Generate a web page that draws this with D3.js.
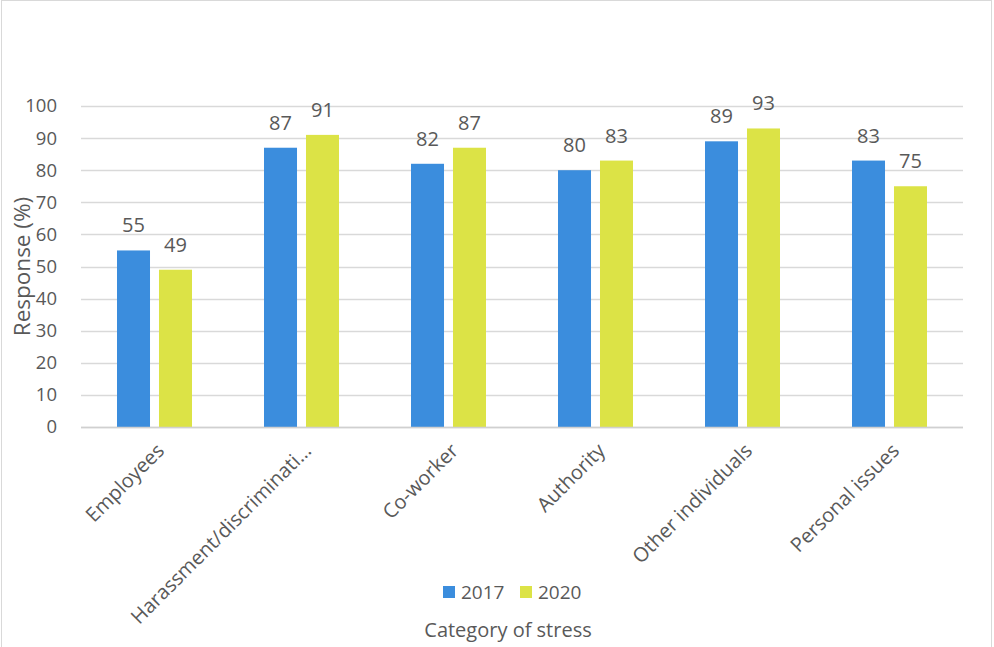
<!DOCTYPE html>
<html>
<head>
<meta charset="utf-8">
<script src="https://cdn.jsdelivr.net/npm/d3@7"></script>
<style>
  body { margin: 0; background: #fff; }
  svg text { font-family: "Open Sans", "Liberation Sans", sans-serif; fill: #595959; }
</style>
</head>
<body>
<svg id="chart" width="994" height="647"></svg>
<script>
var categories = ['Employees', 'Harassment/discriminati…', 'Co-worker', 'Authority', 'Other individuals', 'Personal issues'];
var seriesNames = ['2017', '2020'];
var values2017 = [55, 87, 82, 80, 89, 83];
var values2020 = [49, 91, 87, 83, 93, 75];
var yTicks = [0, 10, 20, 30, 40, 50, 60, 70, 80, 90, 100];
var colors = ['#3b8ddd', '#dce346'];

(function() {
  var svg = d3.select('#chart');
  var plotLeft = 81, plotRight = 963, plotTop = 106, plotBottom = 427;

  svg.append('rect')
    .attr('x', 1.5).attr('y', 0.5).attr('width', 990).attr('height', 650)
    .attr('fill', 'none').attr('stroke', '#d9d9d9');

  var x = d3.scaleBand().domain(categories).range([plotLeft, plotRight]);
  var y = d3.scaleLinear().domain([0, 100]).range([plotBottom, plotTop]);
  var x1 = d3.scaleBand().domain(seriesNames)
    .range([x.bandwidth() / 2 - 37.5, x.bandwidth() / 2 + 37.5]).paddingInner(0.214);

  // gridlines
  svg.append('g').selectAll('line').data(yTicks).enter().append('line')
    .attr('x1', plotLeft).attr('x2', plotRight)
    .attr('y1', function(d) { return Math.round(y(d)) + 0.5; })
    .attr('y2', function(d) { return Math.round(y(d)) + 0.5; })
    .attr('stroke', '#d9d9d9').attr('stroke-width', 1.3);

  // y tick labels
  svg.append('g').selectAll('text').data(yTicks).enter().append('text')
    .attr('x', 57).attr('y', function(d) { return y(d); })
    .attr('dy', '0.35em').attr('text-anchor', 'end')
    .style('font-size', '18.5px')
    .text(function(d) { return d; });

  var rows = categories.map(function(c, i) {
    return { cat: c, vals: [values2017[i], values2020[i]] };
  });

  var groups = svg.append('g').selectAll('g').data(rows).enter().append('g')
    .attr('transform', function(d) { return 'translate(' + x(d.cat) + ',0)'; });

  var cells = function(d) {
    return d.vals.map(function(v, i) { return { s: seriesNames[i], v: v, i: i }; });
  };

  groups.selectAll('rect').data(cells).enter().append('rect')
    .attr('x', function(d) { return x1(d.s); })
    .attr('width', x1.bandwidth())
    .attr('y', function(d) { return y(d.v); })
    .attr('height', function(d) { return plotBottom - y(d.v); })
    .attr('fill', function(d) { return colors[d.i]; });

  groups.selectAll('text').data(cells).enter().append('text')
    .attr('x', function(d) { return x1(d.s) + x1.bandwidth() / 2; })
    .attr('y', function(d) { return y(d.v) - 18; })
    .attr('text-anchor', 'middle')
    .style('font-size', '20px')
    .text(function(d) { return d.v; });

  // axis line
  svg.append('line').attr('x1', plotLeft).attr('x2', plotRight)
    .attr('y1', plotBottom + 0.5).attr('y2', plotBottom + 0.5)
    .attr('stroke', '#d0d0d0').attr('stroke-width', 1.3);

  // category labels
  svg.append('g').selectAll('text').data(categories).enter().append('text')
    .attr('transform', function(d) {
      return 'translate(' + (x(d) + x.bandwidth() / 2 + 6) + ',447) rotate(-45)';
    })
    .attr('text-anchor', 'end').attr('dy', '0.35em')
    .style('font-size', '20px')
    .text(function(d) { return d; });

  // y title
  svg.append('text')
    .attr('transform', 'translate(22,' + ((plotTop + plotBottom) / 2) + ') rotate(-90)')
    .attr('text-anchor', 'middle').attr('dy', '0.35em')
    .style('font-size', '22.5px')
    .text('Response (%)');

  // legend
  var legend = svg.append('g').selectAll('g').data(seriesNames).enter().append('g')
    .attr('transform', function(d, i) { return 'translate(' + (443 + i * 77) + ',586)'; });
  legend.append('rect').attr('width', 12).attr('height', 12)
    .attr('fill', function(d, i) { return colors[i]; });
  legend.append('text').attr('x', 18).attr('y', 6).attr('dy', '0.36em')
    .style('font-size', '19px')
    .text(function(d) { return d; });

  // x title
  svg.append('text')
    .attr('x', 508).attr('y', 637)
    .attr('text-anchor', 'middle')
    .style('font-size', '20px')
    .text('Category of stress');
})();
</script>
</body>
</html>
